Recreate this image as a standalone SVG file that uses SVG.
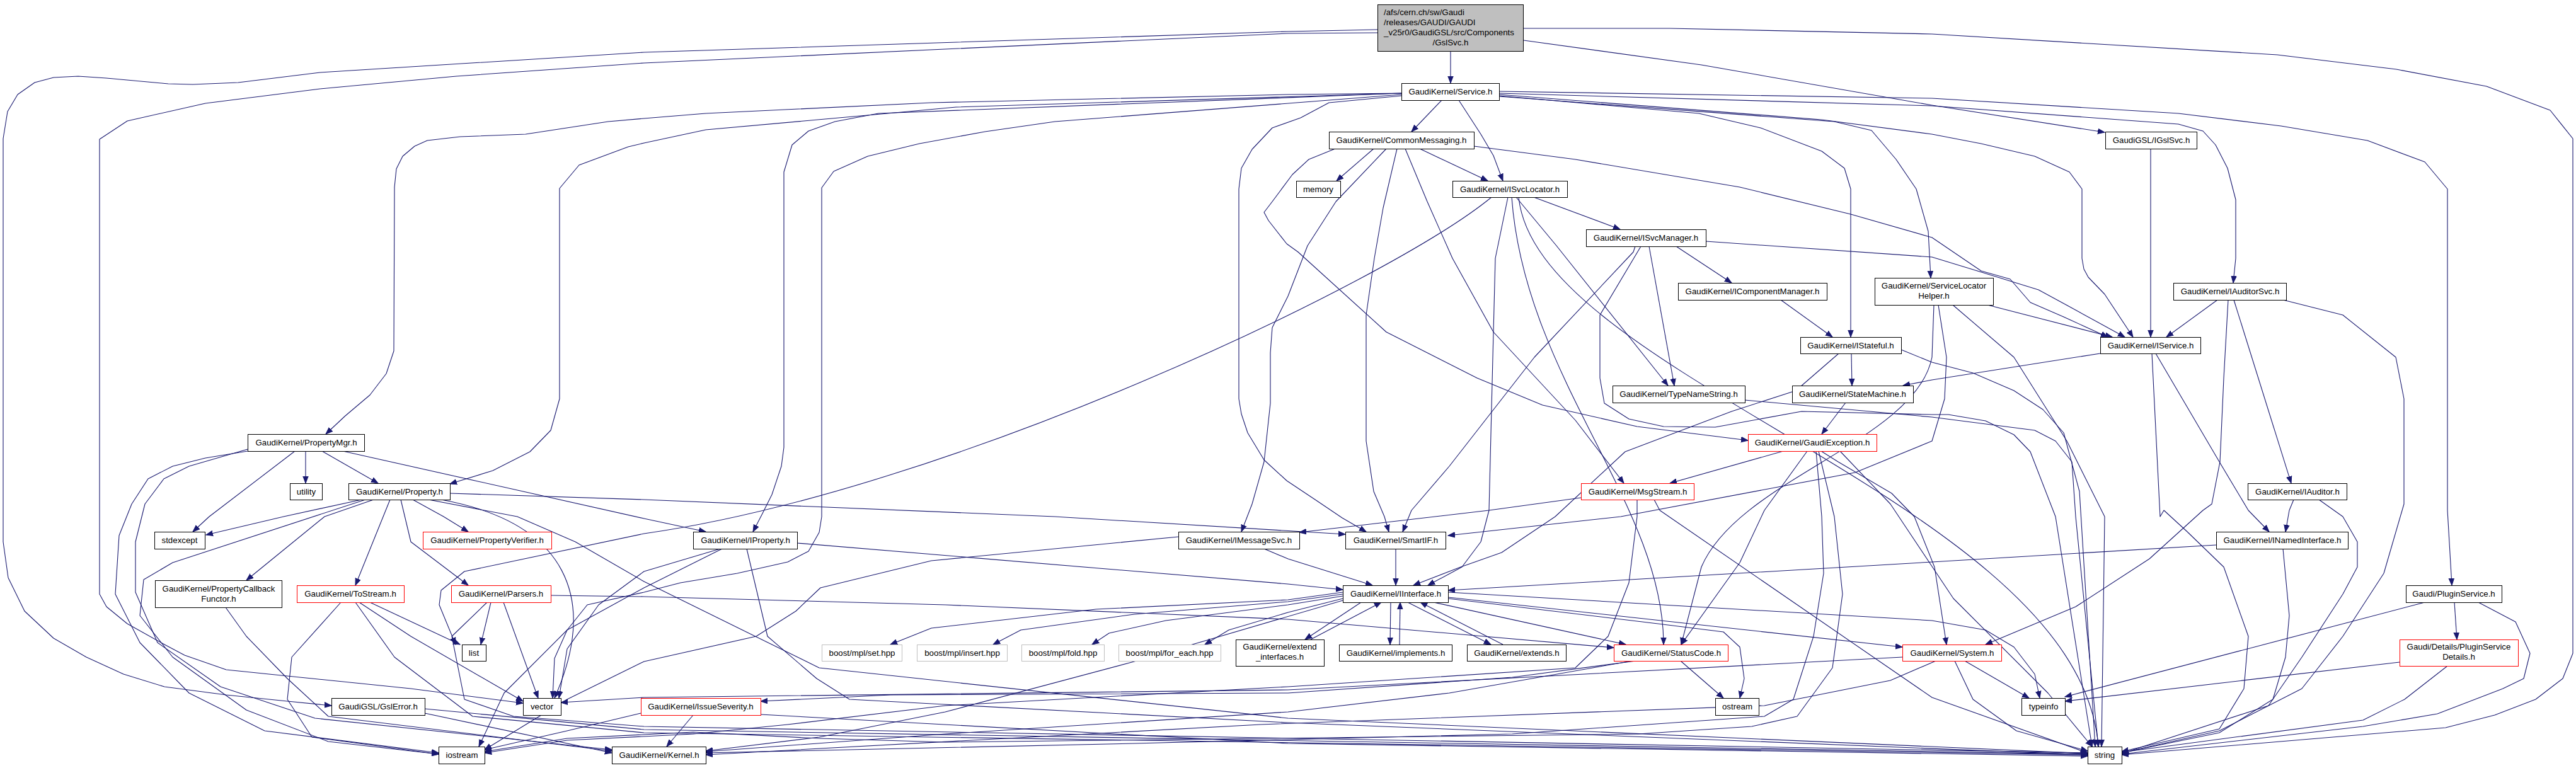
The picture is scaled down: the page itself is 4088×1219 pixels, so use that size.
<svg xmlns="http://www.w3.org/2000/svg" width="4088" height="1219" viewBox="0 0 4088 1219">
<style>
.node rect{fill:#fff;stroke:#000;stroke-width:1}
.red rect{stroke:#f00}
.grey rect{stroke:#bfbfbf}
.root rect{fill:#bfbfbf}
text{font-family:"Liberation Sans",Arial,Helvetica,sans-serif;font-size:13.3px;fill:#000;text-anchor:middle}
.e path{fill:none;stroke:#191970;stroke-width:1.1;stroke-linejoin:round;marker-end:url(#ah)}
</style>
<defs>
<marker id="ah" markerUnits="userSpaceOnUse" markerWidth="12" markerHeight="10" refX="11" refY="5" orient="auto" viewBox="0 0 12 10"><path d="M0,0.8 L11,5 L0,9.2 z" fill="#191970" stroke="#191970" stroke-width="1"/></marker>
</defs>
<rect width="4088" height="1219" fill="#fff"/>
<g id="edges" class="e">
<path d="M2302,81 L2302,132"/>
<path d="M2418,64 L2700,103 L3066,167 L3340,210"/>
<path d="M2418,45 L2650,45 L3066,54 L3614,87 L3803,110 L3946,137 L4047,175 L4083,220 L4083,1037 L4067,1077 L4024,1110 L3959,1135 L3881,1155 L3367,1198"/>
<path d="M2186,47 L2044,50 L1022,83 L508,115 L378,131 L306,134 L267,133 L169,124 L124,121 L85,123 L55,131 L28,150 L12,177 L5,220 L5,860 L13,917 L39,970 L85,1013 L137,1043 L196,1070 L261,1090 L359,1103 L456,1113 L526,1120"/>
<path d="M2186,52 L2044,53 L1022,100 L724,121 L508,141 L326,164 L202,192 L158,221 L158,943 L169,963 L202,990 L261,1023 L293,1040 L359,1063 L456,1073 L652,1093 L830,1116"/>
<path d="M2288,159 L2240,209"/>
<path d="M2315,159 L2350,213 L2370,247 L2385,287"/>
<path d="M2224,148 L2044,150 L1478,163 L1120,180 L1022,188 L965,193 L834,213 L730,217 L678,223 L658,232 L639,248 L629,268 L626,297 L625,557 L613,593 L587,627 L548,660 L517,689"/>
<path d="M2224,148 L1517,170 L1387,182 L1120,206 L1022,227 L997,233 L919,262 L888,299 L888,633 L874,683 L841,717 L782,747 L714,768"/>
<path d="M2224,148 L1394,180 L1325,193 L1283,208 L1257,230 L1244,273 L1244,710 L1240,740 L1225,785 L1210,815 L1195,844"/>
<path d="M2224,150 L1674,193 L1563,209 L1459,228 L1377,248 L1323,272 L1304,298 L1304,820 L1300,845 L1283,875 L1250,892 L1170,910 L1080,925 L1022,940 L932,960 L900,1000 L880,1045 L877,1108"/>
<path d="M2224,152 L2109,163 L2064,187 L2019,203 L1987,237 L1970,267 L1966,300 L1966,633 L1970,657 L1980,687 L2006,730 L2042,763 L2090,795 L2130,822 L2168,844"/>
<path d="M2379,152 L2696,180 L2794,203 L2891,240 L2927,267 L2937,300 L2937,535"/>
<path d="M2379,153 L2911,193 L2970,207 L3009,253 L3041,300 L3060,367 L3064,441"/>
<path d="M2379,150 L2891,190 L3066,213 L3144,228 L3229,248 L3284,273 L3304,300 L3304,410 L3307,427 L3314,440 L3340,467 L3385,535"/>
<path d="M2379,148 L3066,168 L3457,197 L3496,208 L3516,230 L3535,267 L3548,317 L3548,410 L3544,449"/>
<path d="M2379,145 L3066,156 L3457,180 L3620,200 L3757,223 L3848,257 L3884,300 L3884,810 L3891,929"/>
<path d="M2180,236 L2121,287"/>
<path d="M2253,236 L2361,287"/>
<path d="M2230,236 L2265,320 L2305,410 L2370,527 L2500,667 L2577,767"/>
<path d="M2200,236 L2120,320 L2075,390 L2044,470 L2019,520 L2016,560 L2016,640 L2006,733 L1987,800 L1970,844"/>
<path d="M2119,236 L2077,253 L2051,277 L2019,320 L2006,337 L2013,350 L2042,387 L2060,400 L2200,527 L2344,600 L2448,643 L2598,677 L2774,699"/>
<path d="M2339,232 L2500,253 L2761,297 L2937,340 L3066,377 L3144,430 L3190,443 L3222,480 L3275,503 L3345,535"/>
<path d="M2217,236 L2195,330 L2181,410 L2168,500 L2168,700 L2180,780 L2197,820 L2204,844"/>
<path d="M2434,313 L2571,364"/>
<path d="M2406,313 L2470,390 L2647,612"/>
<path d="M2393,313 L2373,410 L2370,527 L2363,810 L2350,860 L2320,900 L2266,929"/>
<path d="M2367,313 C2200,450 1500,780 1022,847 L737,907 L700,937 L697,960 L723,1023"/>
<path d="M2410,313 C2440,600 3300,800 3330,1185"/>
<path d="M2399,313 C2420,600 2640,800 2640,1023"/>
<path d="M2660,391 L2748,449"/>
<path d="M2617,391 L2657,612"/>
<path d="M2707,383 L3066,408 L3138,430 L3235,460 L3281,485 L3372,535"/>
<path d="M2595,391 L2592,400 L2435,567 L2300,740 L2240,810 L2226,844"/>
<path d="M2604,391 L2539,500 L2539,600 L2546,640 L2585,665 L2640,677 L2722,678 L2859,653 L3066,658 L3092,658 L3151,668 L3196,690 L3222,717 L3262,820 L3320,1185"/>
<path d="M2769,635 L3066,662 L3229,683 L3262,700 L3288,733 L3294,820 L3330,1185"/>
<path d="M3413,236 L3413,535"/>
<path d="M2826,476 L2908,535"/>
<path d="M3154,484 L3352,535"/>
<path d="M3069,484 L3066,567 C3040,700 2760,760 2700,900 L2668,1023"/>
<path d="M3099,484 L3196,567 L3280,700 L3340,820 L3335,1185"/>
<path d="M3076,484 L3089,567 L3086,633 L3066,700 L2944,750 L2572,820 L2298,850"/>
<path d="M2938,561 L2939,612"/>
<path d="M2918,561 L2850,620 L2748,653 L2579,717 L2468,820 L2383,877 L2318,900 L2243,929"/>
<path d="M3017,555 L3066,575 L3131,592 L3196,620 L3242,650 L3275,687 L3300,780 L3325,1185"/>
<path d="M2929,639 L2891,689"/>
<path d="M2830,716 L2650,767"/>
<path d="M2868,716 L2800,810 L2761,893 L2668,1023"/>
<path d="M2890,716 L2917,733 L3002,783 L3038,820 L3070,900 L3089,1023"/>
<path d="M2882,716 L2891,820 L2894,910 L2878,1010 L2846,1110 L2800,1137 L2400,1165 L1800,1180 L1120,1195"/>
<path d="M2886,716 L2911,820 L2924,943 L2908,1060 L2852,1137 L2780,1153 L2600,1165 L1500,1178 L1300,1172 L1100,1162 L900,1172 L769,1193"/>
<path d="M2920,716 L3000,800 L3100,950 L3250,1100 L3320,1185"/>
<path d="M2509,790 L2363,810 L2062,845"/>
<path d="M2598,793 L2598,820 L2585,925 L2552,1010 L2500,1060 L2044,1090 L1500,1120 L1250,1150 L1100,1165 L900,1175 L769,1195"/>
<path d="M2625,793 L2634,810 L3066,1107 L3313,1195"/>
<path d="M3519,476 L3438,535"/>
<path d="M3545,476 L3636,767"/>
<path d="M3536,476 L3529,600 L3523,733 L3510,800 L3496,810 L3411,887 L3294,963 L3151,1023"/>
<path d="M3623,476 L3718,500 L3802,567 L3815,633 L3815,800 L3783,910 L3718,1010 L3653,1093 L3522,1160 L3367,1195"/>
<path d="M3333,561 L3066,603 L3020,612"/>
<path d="M3421,561 L3522,733 L3568,810 L3601,844"/>
<path d="M3415,561 L3428,820 L3434,810 L3470,843 L3529,900 L3568,1010 L3561,1093 L3522,1157 L3367,1193"/>
<path d="M3640,793 L3633,810 L3627,844"/>
<path d="M3680,793 L3718,820 L3741,860 L3741,900 L3718,943 L3653,1043 L3600,1120 L3367,1196"/>
<path d="M3517,865 L3066,892 L2298,937"/>
<path d="M3623,871 L3633,977 L3627,1043 L3607,1110 L3522,1163 L3367,1195"/>
<path d="M3895,956 L3899,1015"/>
<path d="M3848,956 L3277,1106"/>
<path d="M3933,956 L3992,987 L4015,1037 L4005,1077 L3972,1093 L3868,1133 L3750,1153 L3367,1197"/>
<path d="M3808,1051 L3277,1113"/>
<path d="M3884,1057 L3816,1110 L3750,1143 L3367,1194"/>
<path d="M3118,1049 L3220,1108"/>
<path d="M3102,1049 L3131,1110 L3200,1160 L3313,1192"/>
<path d="M3019,1043 L2044,1095 L1022,1107 L890,1115"/>
<path d="M3072,1049 L3000,1080 L2800,1120 L2000,1150 L1120,1198"/>
<path d="M2667,1049 L2735,1108"/>
<path d="M2596,1049 L2400,1075 L2044,1100 L1413,1103 L1207,1113"/>
<path d="M2590,1049 L2300,1100 L2044,1130 L1500,1165 L1120,1193"/>
<path d="M1100,1135 L1058,1185"/>
<path d="M1017,1132 L900,1160 L769,1190"/>
<path d="M1207,1134 L2044,1180 L3313,1200"/>
<path d="M2131,940 L2044,952 L1739,967 L1478,997 L1413,1023"/>
<path d="M2131,943 L2044,955 L1800,975 L1620,1000 L1576,1023"/>
<path d="M2131,946 L2044,960 L1850,985 L1760,1005 L1733,1023"/>
<path d="M2131,950 L2044,972 L1950,1000 L1912,1023"/>
<path d="M2160,956 L2071,1015"/>
<path d="M2207,956 L2206,1023"/>
<path d="M2234,956 L2366,1023"/>
<path d="M2275,956 L2580,1023"/>
<path d="M2298,950 L2631,990 L2735,1003 L2761,1027 L2768,1077 L2761,1108"/>
<path d="M2298,948 L3019,1027"/>
<path d="M2298,940 L3066,985 L3151,1000 L3196,1027 L3229,1070 L3237,1108"/>
<path d="M2131,953 L1800,1050 L1500,1130 L1300,1170 L1120,1192"/>
<path d="M2080,1015 L2192,956"/>
<path d="M2221,1023 L2222,956"/>
<path d="M2385,1023 L2254,956"/>
<path d="M2215,871 L2215,929"/>
<path d="M1265,862 L2044,927 L2131,936"/>
<path d="M1143,871 L1022,907 L950,960 L900,1030 L887,1108"/>
<path d="M1146,871 L1022,933 L900,1000 L800,1100 L760,1185"/>
<path d="M1185,871 L1218,1010 L1296,1077 L1348,1110 L2044,1147 L3313,1198"/>
<path d="M2006,871 L2044,887 L2178,929"/>
<path d="M1870,852 L1478,890 L1302,933 L1263,970 L1200,1010 L1022,1050 L900,1110 L769,1190"/>
<path d="M779,956 L763,1023"/>
<path d="M799,956 L854,1108"/>
<path d="M773,956 L717,1010 L737,1110 L815,1137 L1022,1153 L3313,1195"/>
<path d="M874,945 L1022,947 L1500,960 L2044,983 L2561,1028"/>
<path d="M587,956 L730,1023"/>
<path d="M570,956 L652,1010 L830,1113"/>
<path d="M541,956 L463,1043 L456,1110 L495,1170 L696,1197"/>
<path d="M564,956 L626,1043 L750,1137 L1022,1163 L3313,1198"/>
<path d="M358,964 L391,1010 L456,1077 L521,1137 L971,1192"/>
<path d="M674,1132 L971,1195"/>
<path d="M674,1125 L1022,1158 L3313,1197"/>
<path d="M574,793 L450,820 L327,849"/>
<path d="M655,793 L704,820 L743,844"/>
<path d="M593,793 L515,820 L391,921"/>
<path d="M619,793 L564,929"/>
<path d="M636,793 L652,860 L743,929"/>
<path d="M714,783 L1022,793 L1674,820 L2135,848"/>
<path d="M580,793 L274,893 L228,920 L222,977 L274,1043 L391,1127 L521,1177 L696,1197"/>
<path d="M700,793 C900,830 950,950 880,1108"/>
<path d="M680,793 L821,820 L913,860 L1022,923 L1300,1060 L2044,1140 L3313,1196"/>
<path d="M485,716 L485,767"/>
<path d="M511,716 L600,767"/>
<path d="M468,716 L332,820 L306,844"/>
<path d="M544,716 L1022,823 L1120,844"/>
<path d="M393,716 L326,727 L274,740 L235,760 L209,800 L189,850 L183,943 L222,1020 L300,1100 L420,1160 L696,1195"/>
<path d="M393,713 L300,740 L260,760 L230,800 L215,860 L215,940 L250,1020 L350,1090 L500,1140 L971,1190"/>
</g>
<g id="n0" class="node root"><rect x="2186.5" y="7.5" width="231" height="74"/><text x="2196" y="24" style="text-anchor:start">/afs/cern.ch/sw/Gaudi</text><text x="2196" y="40" style="text-anchor:start">/releases/GAUDI/GAUDI</text><text x="2196" y="56" style="text-anchor:start">_v25r0/GaudiGSL/src/Components</text><text x="2302" y="72">/GslSvc.h</text></g>
<g id="n1" class="node"><rect x="2224.5" y="132.5" width="155" height="27"/><text x="2302" y="150">GaudiKernel/Service.h</text></g>
<g id="n2" class="node"><rect x="2109.5" y="209.5" width="230" height="27"/><text x="2224" y="227">GaudiKernel/CommonMessaging.h</text></g>
<g id="n3" class="node"><rect x="2057.5" y="287.5" width="70" height="26"/><text x="2092" y="305">memory</text></g>
<g id="n4" class="node"><rect x="2305.5" y="287.5" width="182" height="26"/><text x="2396" y="305">GaudiKernel/ISvcLocator.h</text></g>
<g id="n5" class="node"><rect x="2517.5" y="364.5" width="190" height="27"/><text x="2612" y="382">GaudiKernel/ISvcManager.h</text></g>
<g id="n6" class="node"><rect x="3341.5" y="209.5" width="145" height="27"/><text x="3414" y="227">GaudiGSL/IGslSvc.h</text></g>
<g id="n7" class="node"><rect x="2663.5" y="449.5" width="236" height="27"/><text x="2781" y="467">GaudiKernel/IComponentManager.h</text></g>
<g id="n8" class="node"><rect x="2975.5" y="441.5" width="188" height="43"/><text x="3069" y="458">GaudiKernel/ServiceLocator</text><text x="3069" y="474">Helper.h</text></g>
<g id="n9" class="node"><rect x="2857.5" y="535.5" width="160" height="26"/><text x="2937" y="553">GaudiKernel/IStateful.h</text></g>
<g id="n10" class="node"><rect x="2559.5" y="612.5" width="210" height="27"/><text x="2664" y="630">GaudiKernel/TypeNameString.h</text></g>
<g id="n11" class="node"><rect x="2844.5" y="612.5" width="192" height="27"/><text x="2940" y="630">GaudiKernel/StateMachine.h</text></g>
<g id="n12" class="node red"><rect x="2774.5" y="689.5" width="204" height="27"/><text x="2876" y="707">GaudiKernel/GaudiException.h</text></g>
<g id="n13" class="node red"><rect x="2509.5" y="767.5" width="179" height="26"/><text x="2599" y="785">GaudiKernel/MsgStream.h</text></g>
<g id="n14" class="node"><rect x="3449.5" y="449.5" width="179" height="27"/><text x="3539" y="467">GaudiKernel/IAuditorSvc.h</text></g>
<g id="n15" class="node"><rect x="3333.5" y="535.5" width="159" height="26"/><text x="3413" y="553">GaudiKernel/IService.h</text></g>
<g id="n16" class="node"><rect x="3567.5" y="767.5" width="157" height="26"/><text x="3646" y="785">GaudiKernel/IAuditor.h</text></g>
<g id="n17" class="node"><rect x="393.5" y="689.5" width="185" height="27"/><text x="486" y="707">GaudiKernel/PropertyMgr.h</text></g>
<g id="n18" class="node"><rect x="460.5" y="767.5" width="51" height="26"/><text x="486" y="785">utility</text></g>
<g id="n19" class="node"><rect x="553.5" y="767.5" width="161" height="26"/><text x="634" y="785">GaudiKernel/Property.h</text></g>
<g id="n20" class="node"><rect x="245.5" y="844.5" width="80" height="27"/><text x="285" y="862">stdexcept</text></g>
<g id="n21" class="node red"><rect x="671.5" y="844.5" width="204" height="27"/><text x="773" y="862">GaudiKernel/PropertyVerifier.h</text></g>
<g id="n22" class="node"><rect x="246.5" y="921.5" width="201" height="43"/><text x="347" y="939">GaudiKernel/PropertyCallback</text><text x="347" y="955">Functor.h</text></g>
<g id="n23" class="node red"><rect x="471.5" y="929.5" width="170" height="27"/><text x="556" y="947">GaudiKernel/ToStream.h</text></g>
<g id="n24" class="node red"><rect x="716.5" y="929.5" width="158" height="27"/><text x="795" y="947">GaudiKernel/Parsers.h</text></g>
<g id="n25" class="node"><rect x="733.5" y="1023.5" width="38" height="26"/><text x="752" y="1041">list</text></g>
<g id="n26" class="node"><rect x="830.5" y="1108.5" width="60" height="27"/><text x="860" y="1126">vector</text></g>
<g id="n27" class="node"><rect x="526.5" y="1108.5" width="148" height="27"/><text x="600" y="1126">GaudiGSL/GslError.h</text></g>
<g id="n28" class="node"><rect x="696.5" y="1185.5" width="73" height="27"/><text x="733" y="1203">iostream</text></g>
<g id="n29" class="node"><rect x="971.5" y="1185.5" width="149" height="27"/><text x="1046" y="1203">GaudiKernel/Kernel.h</text></g>
<g id="n30" class="node"><rect x="1100.5" y="844.5" width="165" height="27"/><text x="1183" y="862">GaudiKernel/IProperty.h</text></g>
<g id="n31" class="node"><rect x="1870.5" y="844.5" width="192" height="27"/><text x="1966" y="862">GaudiKernel/IMessageSvc.h</text></g>
<g id="n32" class="node grey"><rect x="1304.5" y="1023.5" width="127" height="26"/><text x="1368" y="1041">boost/mpl/set.hpp</text></g>
<g id="n33" class="node grey"><rect x="1455.5" y="1023.5" width="143" height="26"/><text x="1527" y="1041">boost/mpl/insert.hpp</text></g>
<g id="n34" class="node grey"><rect x="1621.5" y="1023.5" width="131" height="26"/><text x="1687" y="1041">boost/mpl/fold.hpp</text></g>
<g id="n35" class="node grey"><rect x="1775.5" y="1023.5" width="162" height="26"/><text x="1856" y="1041">boost/mpl/for_each.hpp</text></g>
<g id="n36" class="node"><rect x="1961.5" y="1015.5" width="140" height="42"/><text x="2031" y="1031">GaudiKernel/extend</text><text x="2031" y="1047">_interfaces.h</text></g>
<g id="n37" class="node red"><rect x="1017.5" y="1108.5" width="190" height="27"/><text x="1112" y="1126">GaudiKernel/IssueSeverity.h</text></g>
<g id="n38" class="node"><rect x="2135.5" y="844.5" width="159" height="27"/><text x="2215" y="862">GaudiKernel/SmartIF.h</text></g>
<g id="n39" class="node"><rect x="2131.5" y="929.5" width="167" height="27"/><text x="2215" y="947">GaudiKernel/IInterface.h</text></g>
<g id="n40" class="node"><rect x="2125.5" y="1023.5" width="179" height="26"/><text x="2215" y="1041">GaudiKernel/implements.h</text></g>
<g id="n41" class="node"><rect x="2328.5" y="1023.5" width="157" height="26"/><text x="2407" y="1041">GaudiKernel/extends.h</text></g>
<g id="n42" class="node red"><rect x="2561.5" y="1023.5" width="181" height="26"/><text x="2652" y="1041">GaudiKernel/StatusCode.h</text></g>
<g id="n43" class="node"><rect x="2722.5" y="1108.5" width="69" height="27"/><text x="2757" y="1126">ostream</text></g>
<g id="n44" class="node red"><rect x="3019.5" y="1023.5" width="157" height="26"/><text x="3098" y="1041">GaudiKernel/System.h</text></g>
<g id="n45" class="node"><rect x="3517.5" y="844.5" width="209" height="27"/><text x="3622" y="862">GaudiKernel/INamedInterface.h</text></g>
<g id="n46" class="node"><rect x="3818.5" y="929.5" width="152" height="27"/><text x="3894" y="947">Gaudi/PluginService.h</text></g>
<g id="n47" class="node red"><rect x="3808.5" y="1015.5" width="188" height="42"/><text x="3902" y="1031">Gaudi/Details/PluginService</text><text x="3902" y="1047">Details.h</text></g>
<g id="n48" class="node"><rect x="3208.5" y="1108.5" width="69" height="27"/><text x="3243" y="1126">typeinfo</text></g>
<g id="n49" class="node"><rect x="3313.5" y="1185.5" width="54" height="27"/><text x="3340" y="1203">string</text></g>
</svg>
